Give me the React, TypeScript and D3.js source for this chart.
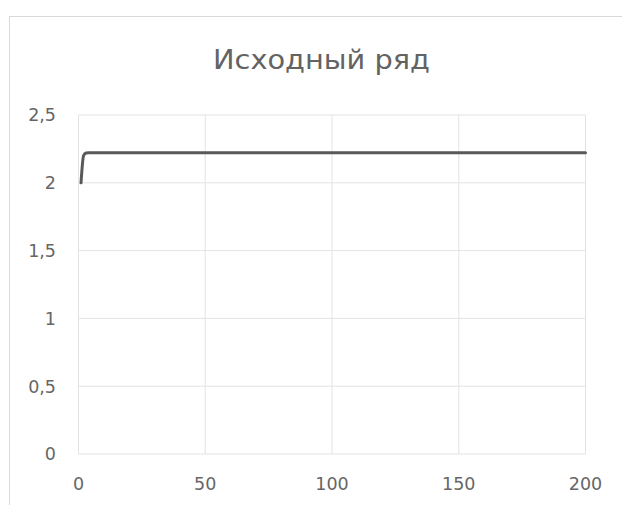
import React from "react";
import * as d3 from "d3";

const title = "Исходный ряд";
const xValues = [1, 2, 3, 4, 5, 6, 10, 25, 50, 75, 100, 125, 150, 175, 200];
const yValues = [2, 2.2, 2.22, 2.222, 2.2222, 2.2222, 2.2222, 2.2222, 2.2222, 2.2222, 2.2222, 2.2222, 2.2222, 2.2222, 2.2222];
const xTicks = [0, 50, 100, 150, 200];
const yTicks = [0, 0.5, 1, 1.5, 2, 2.5];

const W = 622;
const H = 505;
const font = "DejaVu Sans, Verdana, sans-serif";

export default function App() {
  const x = d3.scaleLinear().domain([0, 200]).range([78.5, 585.5]);
  const y = d3.scaleLinear().domain([0, 2.5]).range([454, 115]);
  const pts: [number, number][] = xValues.map((v, i) => [v, yValues[i]]);
  const line = d3
    .line<[number, number]>()
    .x((d) => x(d[0]))
    .y((d) => y(d[1]))
    .curve(d3.curveMonotoneX);
  const fmt = (v: number) => String(v).replace(".", ",");
  return (
    <svg
      width={W}
      height={H}
      style={{ position: "absolute", left: 0, top: 0, background: "#fff" }}
    >
      <rect x={9.5} y={16.5} width={W + 20} height={H + 20} fill="#fff" stroke="#d9d9d9" strokeWidth={1} />
      <text
        x={321.5}
        y={69}
        textAnchor="middle"
        fontFamily={font}
        fontSize={27}
        fill="#636363"
        textLength={217}
        lengthAdjust="spacingAndGlyphs"
      >
        {title}
      </text>
      {yTicks.map((t) => (
        <line key={"gy" + t} x1={x(0)} x2={x(200)} y1={y(t)} y2={y(t)} stroke="#e3e3e3" strokeWidth={1} />
      ))}
      {xTicks.map((t) => (
        <line key={"gx" + t} x1={x(t)} x2={x(t)} y1={y(0)} y2={y(2.5)} stroke="#e3e3e3" strokeWidth={1} />
      ))}
      {yTicks.map((t) => (
        <text
          key={"ly" + t}
          x={56}
          y={y(t)}
          dy="0.36em"
          textAnchor="end"
          fontFamily={font}
          fontSize={17.5}
          fill="#666"
        >
          {fmt(t)}
        </text>
      ))}
      {xTicks.map((t) => (
        <text
          key={"lx" + t}
          x={x(t)}
          y={484}
          dy="0.36em"
          textAnchor="middle"
          fontFamily={font}
          fontSize={17.5}
          fill="#666"
        >
          {fmt(t)}
        </text>
      ))}
      <path d={line(pts) || ""} fill="none" stroke="#595959" strokeWidth={3} strokeLinecap="round" strokeLinejoin="round" />
    </svg>
  );
}
